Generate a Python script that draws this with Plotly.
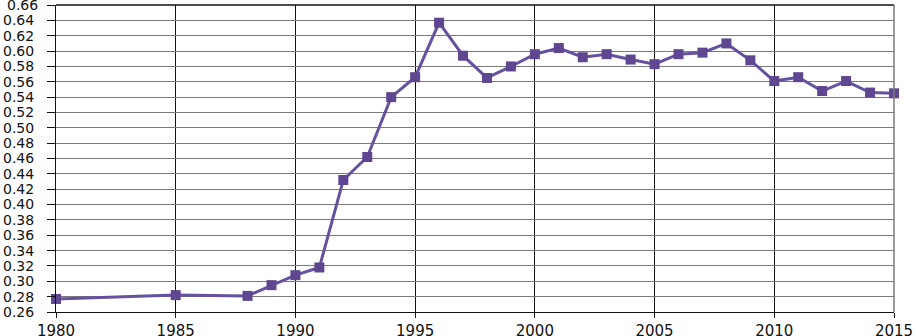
import plotly.graph_objects as go

years = [1980, 1985, 1988, 1989, 1990, 1991, 1992, 1993, 1994, 1995, 1996, 1997,
         1998, 1999, 2000, 2001, 2002, 2003, 2004, 2005, 2006, 2007, 2008, 2009,
         2010, 2011, 2012, 2013, 2014, 2015]
values = [0.277, 0.282, 0.281, 0.295, 0.308, 0.318, 0.432, 0.462, 0.540, 0.566,
          0.637, 0.594, 0.565, 0.580, 0.596, 0.604, 0.592, 0.596, 0.589, 0.583,
          0.596, 0.598, 0.610, 0.588, 0.561, 0.566, 0.548, 0.561, 0.546, 0.545]

x_ticks = [1980, 1985, 1990, 1995, 2000, 2005, 2010, 2015]
y_ticks = [round(0.26 + 0.02 * i, 2) for i in range(21)]

fig = go.Figure()
fig.add_trace(go.Scatter(
    x=years, y=values, mode="lines+markers",
    line=dict(color="#6650a0", width=3),
    marker=dict(symbol="square", size=10, color="#5f4690"),
    showlegend=False, cliponaxis=False,
))

yfont = dict(family="DejaVu Sans", size=14, color="#111111")
xfont = dict(family="DejaVu Sans", size=15, color="#111111")

fig.update_layout(
    width=916, height=336,
    margin=dict(l=56, r=22, t=5, b=24, autoexpand=False),
    paper_bgcolor="white", plot_bgcolor="white",
    xaxis=dict(
        range=[1980, 2015], tickvals=x_ticks, ticktext=[str(v) for v in x_ticks],
        showgrid=True, gridcolor="#111111", gridwidth=1,
        ticks="outside", ticklen=5, tickcolor="#111111",
        showline=True, linecolor="#111111", linewidth=1, mirror=False,
        zeroline=False, tickfont=xfont, automargin=False, ticklabelstandoff=0,
    ),
    yaxis=dict(
        range=[0.26, 0.6601], tickvals=y_ticks, tickformat=".2f",
        showgrid=True, gridcolor="#7a7a7a", gridwidth=1,
        ticks="outside", ticklen=8, tickcolor="#111111",
        showline=True, linecolor="#111111", linewidth=1, mirror=False,
        zeroline=False, tickfont=yfont, ticklabelstandoff=10, automargin=False,
    ),
)
# top tick label (Plotly drops it because it overflows the page edge)
fig.add_annotation(x=0, xref="paper", y=y_ticks[-1], yref="y",
                   text=f"{y_ticks[-1]:.2f}", showarrow=False,
                   xanchor="right", yanchor="middle", xshift=-16,
                   font=yfont)
fig.add_shape(type="line", xref="paper", yref="paper", x0=0, x1=1, y0=1, y1=1,
              line=dict(color="#111111", width=1.5))
fig.add_shape(type="line", xref="paper", yref="paper", x0=1, x1=1, y0=0, y1=1,
              line=dict(color="#7a7a7a", width=1.5))

fig.write_html("out.html", config={"displayModeBar": False},
               post_script="document.body.style.margin='0';")
